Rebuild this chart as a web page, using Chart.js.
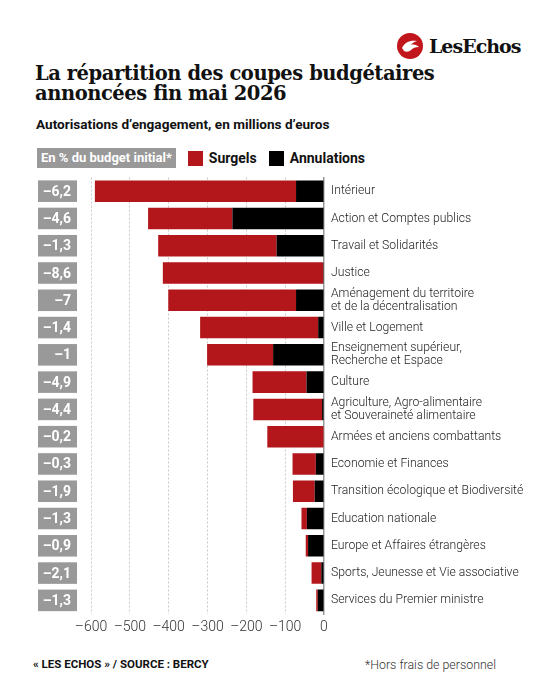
<!DOCTYPE html>
<html lang="fr">
<head>
<meta charset="utf-8">
<title>La répartition des coupes budgétaires</title>
<script src="https://cdn.jsdelivr.net/npm/chart.js@4.4.1/dist/chart.umd.min.js"></script>
<style>
  body { margin: 0; background: #fff; font-family: Roboto, "Noto Sans", sans-serif; color: #111; }
  #page { position: relative; width: 544px; height: 680px; overflow: hidden; }
  .logo { position: absolute; left: 397px; top: 32px; height: 28px; display: flex; align-items: center; }
  .logo .mark { width: 26px; height: 26px; border-radius: 50%; background: #c0161c; position: relative; overflow: hidden; }
  .logo .name { font-family: "DejaVu Serif", serif; font-weight: bold; font-size: 19px; letter-spacing: -1px; margin-left: 6px; color: #111; white-space: nowrap; }
  h1 { position: absolute; left: 35px; top: 64px; margin: 0; font-family: "DejaVu Serif", serif; font-weight: bold; font-size: 19.5px; line-height: 20px; letter-spacing: -0.45px; color: #111; }
  .sub { position: absolute; left: 36px; top: 116px; font-weight: bold; font-size: 13.6px; color: #111; }
  .legend { position: absolute; left: 37px; top: 148px; height: 20px; display: flex; align-items: center; font-size: 14px; font-weight: bold; }
  .legend .pct { background: #999; color: #fff; font-size: 13px; height: 20px; line-height: 20px; padding: 0 4px; margin-right: 12px; }
  .legend .sw { width: 15px; height: 15px; margin-right: 6px; }
  .legend .lab { margin-right: 12px; }
  #wrap { position: absolute; left: 0; top: 164px; width: 544px; height: 476px; }
  .foot { position: absolute; top: 657px; font-size: 11.5px; }
  .foot.l { left: 33px; font-weight: bold; }
  .foot.r { right: 48px; color: #333; font-weight: 300; font-size: 12.4px; }
</style>
</head>
<body>
<div id="page">
  <div class="logo">
    <div class="mark">
      <svg width="26" height="26" viewBox="0 0 26 26">
        <path d="M5 15 C8 9 13 7 20 8 C17 9 15 10 14 12 C17 11 20 12 22 14 C18 14 16 15 14 17 C12 19 9 19 7 18 Z" fill="#fff"/>
      </svg>
    </div>
    <div class="name">LesEchos</div>
  </div>
  <h1>La répartition des coupes budgétaires<br>annoncées fin mai 2026</h1>
  <div class="sub">Autorisations d’engagement, en millions d’euros</div>
  <div class="legend">
    <div class="pct">En % du budget initial*</div>
    <div class="sw" style="background:#b3171c"></div><div class="lab">Surgels</div>
    <div class="sw" style="background:#000"></div><div class="lab">Annulations</div>
  </div>
  <div id="wrap"><canvas id="chart" width="544" height="476"></canvas></div>
  <div class="foot l">« LES ECHOS » / SOURCE : BERCY</div>
  <div class="foot r">*Hors frais de personnel</div>
</div>
<script>
let missions = [
    ['Intérieur'],
    ['Action et Comptes publics'],
    ['Travail et Solidarités'],
    ['Justice'],
    ['Aménagement du territoire', 'et de la décentralisation'],
    ['Ville et Logement'],
    ['Enseignement supérieur,', 'Recherche et Espace'],
    ['Culture'],
    ['Agriculture, Agro-alimentaire', 'et Souveraineté alimentaire'],
    ['Armées et anciens combattants'],
    ['Economie et Finances'],
    ['Transition écologique et Biodiversité'],
    ['Education nationale'],
    ['Europe et Affaires étrangères'],
    ['Sports, Jeunesse et Vie associative'],
    ['Services du Premier ministre']
]

// millions d'euros, negative = coupes
let annulations = [-72, -236, -122, -2, -72, -15, -131, -45, -5, 0, -21, -24, -44, -41, -7, -16]
let surgels = [-518, -217, -305, -413, -329, -304, -170, -139, -177, -146, -60, -56, -14, -6, -25, -4]

let pctBudget = ['–6,2', '–4,6', '–1,3', '–8,6', '–7', '–1,4', '–1', '–4,9', '–4,4', '–0,2', '–0,3', '–1,9', '–1,3', '–0,9', '–2,1', '–1,3']

let xTicks = [-600, -500, -400, -300, -200, -100, 0]

let pctBoxes = {
    id: 'pctBoxes',
    afterDraw: (chart) => {
        const ctx = chart.ctx
        const y = chart.scales.y
        const bar = chart.getDatasetMeta(1).data[0]
        const h = bar ? bar.height : 21
        ctx.save()
        ctx.font = 'bold 14px Roboto, sans-serif'
        ctx.textAlign = 'right'
        ctx.textBaseline = 'middle'
        pctBudget.forEach((txt, i) => {
            const cy = y.getPixelForValue(i)
            ctx.fillStyle = '#999'
            ctx.fillRect(38, cy - h / 2, 39, h)
            ctx.fillStyle = '#fff'
            ctx.fillText(txt, 71, cy + 1)
        })
        ctx.restore()
    }
}

let plot = () => {
    const ctx = document.getElementById('chart')

    const dataset = {
        labels: missions,
        datasets: [{
            label: 'Annulations',
            data: annulations,
            backgroundColor: '#000'
        }, {
            label: 'Surgels',
            data: surgels,
            backgroundColor: '#b3171c'
        }]
    }

    const config = {
        type: 'bar',
        data: dataset,
        options: {
            indexAxis: 'y',
            responsive: false,
            animation: false,
            layout: { padding: { left: 91, right: 0, top: 6, bottom: 0 } },
            datasets: {
                bar: { categoryPercentage: 1, barPercentage: 0.79 }
            },
            plugins: {
                legend: { display: false },
                tooltip: { enabled: false }
            },
            scales: {
                x: {
                    stacked: true,
                    min: -600,
                    max: 0,
                    afterBuildTicks: (scale) => { scale.ticks = xTicks.map(v => ({ value: v })) },
                    afterFit: (scale) => { scale.height = 26 },
                    ticks: {
                        padding: 5,
                        color: '#333',
                        font: { family: 'Roboto', size: 14, weight: 300 },
                        callback: (v) => v < 0 ? '–' + Math.abs(v) : String(v)
                    },
                    grid: {
                        drawTicks: false,
                        color: (c) => c.tick && c.tick.value === 0 ? 'rgba(0,0,0,0)' : '#c8c8c8',
                        lineWidth: 1
                    },
                    border: { display: false, dash: [2, 2] }
                },
                y: {
                    stacked: true,
                    position: 'right',
                    afterFit: (scale) => { scale.width = 220 },
                    ticks: {
                        autoSkip: false,
                        padding: 7,
                        crossAlign: 'near',
                        color: '#222',
                        font: { family: 'Roboto', size: 12.2, weight: 300, lineHeight: 1.07 }
                    },
                    grid: { display: false, drawTicks: false },
                    border: { display: true, color: '#999', width: 1.5 }
                }
            }
        },
        plugins: [pctBoxes]
    }

    const chart = new Chart(ctx, config)
}

plot()
</script>
</body>
</html>
